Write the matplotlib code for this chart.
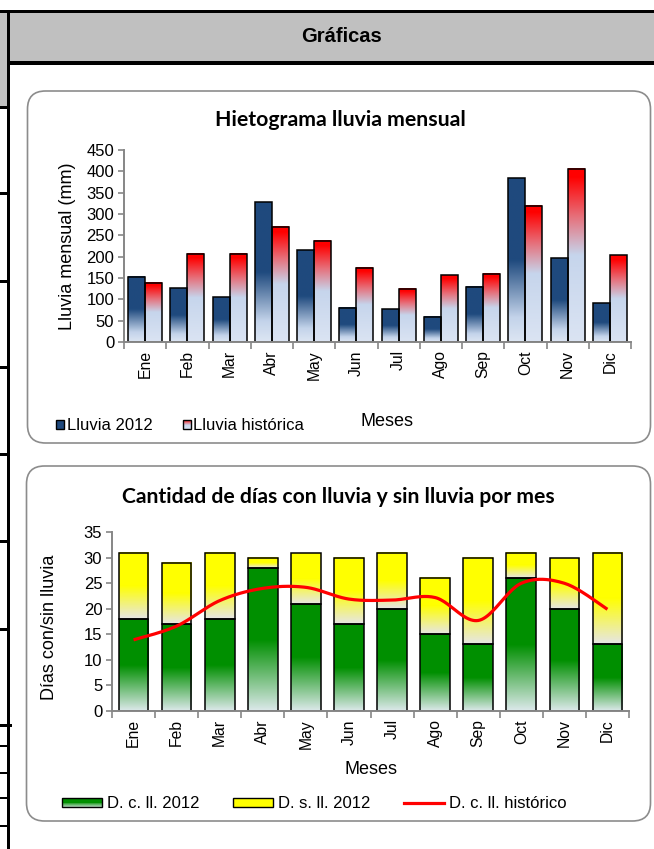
import numpy as np
import matplotlib
matplotlib.use("Agg")
import matplotlib.pyplot as plt
from matplotlib.colors import LinearSegmentedColormap, to_hex
from matplotlib.patches import Rectangle, FancyBboxPatch, Patch
from matplotlib.legend_handler import HandlerBase
from matplotlib.lines import Line2D

# ---------------- data ----------------
meses = ["Ene", "Feb", "Mar", "Abr", "May", "Jun", "Jul", "Ago", "Sep", "Oct", "Nov", "Dic"]
lluvia_2012 = [153, 126, 105, 328, 215, 80, 77, 59, 130, 384, 196, 91]
lluvia_historica = [139, 207, 207, 270, 237, 174, 125, 156, 160, 319, 406, 203]
dias_con_lluvia_2012 = [18, 17, 18, 28, 21, 17, 20, 15, 13, 26, 20, 13]
dias_sin_lluvia_2012 = [13, 12, 13, 2, 10, 13, 11, 11, 17, 5, 10, 18]
dias_con_lluvia_hist = [13.9, 16.6, 21.6, 24.0, 24.2, 21.9, 21.7, 22.2, 17.7, 25.0, 25.0, 19.9]

plt.rcParams['font.family'] = ['Liberation Sans', 'DejaVu Sans']

W, H = 654, 849
fig = plt.figure(figsize=(W / 100, H / 100), dpi=100)

# ---------------- page frame ----------------
bg = fig.add_axes([0, 0, 1, 1], zorder=0)
bg.set_xlim(0, W)
bg.set_ylim(H, 0)
bg.axis('off')

def rect(x0, y0, x1, y1, color):
    bg.add_patch(Rectangle((x0, y0), x1 - x0, y1 - y0, facecolor=color, edgecolor='none'))

rect(0, 10, W, 62, '#c0c0c0')
rect(0, 10, W, 13, 'black')
rect(10, 61, W, 64.5, 'black')
rect(0, 13, 7, 107, '#c0c0c0')
rect(6.7, 10, 10, H, 'black')
for yl in [106, 192, 280, 366, 453, 540, 628]:
    rect(0, yl, 8, yl + 3, 'black')
rect(0, 724, 12, 727, 'black')
for yl in [745, 772, 797, 825]:
    rect(0, yl, 8, yl + 2.2, 'black')

for (x0, y0, x1, y1) in [(27.5, 91, 650.5, 443), (26.5, 466, 650.5, 821)]:
    bg.add_patch(FancyBboxPatch((x0 + 18, y0 + 18), (x1 - x0) - 36, (y1 - y0) - 36,
                                boxstyle="round,pad=18", facecolor='white',
                                edgecolor='#8c8c8c', linewidth=1.2))

fig.text(342 / W, 1 - 37 / H, "Gráficas", ha='center', va='center',
         fontsize=14.5, fontweight='bold')

# ---------------- helpers ----------------
def fig_axes(x0, y0, x1, y1):
    return fig.add_axes([x0 / W, 1 - y1 / H, (x1 - x0) / W, (y1 - y0) / H], zorder=2)

def style_axes(ax, ymax, ystep):
    ax.set_facecolor('none')
    ax.set_xlim(-0.5, 11.5)
    ax.set_ylim(0, ymax)
    for s in ['top', 'right']:
        ax.spines[s].set_visible(False)
    for s in ['left', 'bottom']:
        ax.spines[s].set_color('#868686')
        ax.spines[s].set_linewidth(1.4)
    ax.set_yticks(np.arange(0, ymax + 0.1, ystep))
    ax.tick_params(axis='y', direction='out', length=4, width=1.2, color='#868686',
                   labelsize=12, pad=3)
    ax.set_xticks(np.arange(12))
    ax.set_xticklabels(meses, rotation=90, fontsize=11.3)
    ax.tick_params(axis='x', which='major', length=0, pad=6)
    ax.set_xticks(np.arange(-0.5, 12, 1), minor=True)
    ax.tick_params(axis='x', which='minor', direction='out', length=5, width=1.2, color='#868686')

def grad_fill(ax, bars, cmap):
    g = np.linspace(0, 1, 256).reshape(-1, 1)
    for b in bars:
        x0, y0, w, h = b.get_x(), b.get_y(), b.get_width(), b.get_height()
        ax.imshow(g, extent=[x0, x0 + w, y0, y0 + h], origin='lower', aspect='auto',
                  cmap=cmap, zorder=1.5, interpolation='bilinear')

def smooth_curve(xs, ys, n=24):
    P = np.column_stack([xs, ys]).astype(float)
    out = []
    m = len(P)
    for i in range(m - 1):
        p0 = P[i - 1] if i > 0 else P[i]
        p1, p2 = P[i], P[i + 1]
        p3 = P[i + 2] if i + 2 < m else P[i + 1]
        c1 = p1 + (p2 - p0) / 6
        c2 = p2 - (p3 - p1) / 6
        t = np.linspace(0, 1, n, endpoint=(i == m - 2))[:, None]
        out.append((1 - t) ** 3 * p1 + 3 * (1 - t) ** 2 * t * c1 + 3 * (1 - t) * t ** 2 * c2 + t ** 3 * p2)
    return np.vstack(out)

class GradHandler(HandlerBase):
    def __init__(self, colors, **kw):
        super().__init__(**kw)
        self.colors = colors  # bottom -> top

    def create_artists(self, legend, orig_handle, xdescent, ydescent, width, height, fontsize, trans):
        arts = []
        n = len(self.colors)
        for i, c in enumerate(self.colors):
            arts.append(Rectangle((-xdescent, -ydescent + height * i / n), width, height / n,
                                  facecolor=c, edgecolor='none', transform=trans))
        arts.append(Rectangle((-xdescent, -ydescent), width, height, facecolor='none',
                              edgecolor='black', linewidth=1.0, transform=trans))
        return arts

cm_blue = LinearSegmentedColormap.from_list('b', [(0, '#dde6f3'), (0.15, '#c3d3ea'), (0.5, '#1f4a7e'), (1, '#1f497d')])
cm_red = LinearSegmentedColormap.from_list('r', [(0, '#dbe4f3'), (0.5, '#c6d5ec'), (0.72, '#e6717c'), (0.95, '#ff0000'), (1, '#ff0000')])
cm_green = LinearSegmentedColormap.from_list('g', [(0, '#dde9eb'), (0.5, '#008f00'), (1, '#009000')])
cm_yellow = LinearSegmentedColormap.from_list('y', [(0, '#e6e6e6'), (0.5, '#ffff00'), (1, '#ffff00')])

def samples(cmap, n=12):
    return [to_hex(cmap(v)) for v in (np.arange(n) + 0.5) / n]

# ---------------- chart 1 ----------------
ax1 = fig_axes(124, 150, 631, 342)
x = np.arange(len(meses))
w1 = 0.4
b1 = ax1.bar(x - w1 / 2, lluvia_2012, w1, facecolor='none', edgecolor='black', linewidth=1.1, zorder=2)
b2 = ax1.bar(x + w1 / 2, lluvia_historica, w1, facecolor='none', edgecolor='black', linewidth=1.1, zorder=2)
grad_fill(ax1, b1, cm_blue)
grad_fill(ax1, b2, cm_red)
style_axes(ax1, 450, 50)
ax1.set_ylabel("Lluvia mensual (mm)", fontsize=13, va='center')
ax1.yaxis.set_label_coords((67 - 124) / 507, 0.5)
ax1.set_xlabel("Meses", fontsize=13, va='center')
ax1.xaxis.set_label_coords((387 - 124) / 507, -(421 - 342) / 192)

fig.text(340 / W, 1 - 120 / H, "Hietograma lluvia mensual", ha='center', va='center',
         fontsize=15.3, fontweight='bold', family=['Lato', 'DejaVu Sans'])

h_a = Patch(facecolor='#1f497d', edgecolor='black')
h_b = Patch(facecolor='#c6d5ec', edgecolor='black')
fig.legend([h_a, h_b], ["Lluvia 2012", "Lluvia histórica"],
           handler_map={h_b: GradHandler(samples(cm_red))},
           loc='center left', bbox_to_anchor=(56 / W, 1 - 426 / H), bbox_transform=fig.transFigure,
           ncol=2, frameon=False, fontsize=12, borderpad=0, borderaxespad=0,
           handlelength=0.5, handleheight=0.5, handletextpad=0.15, columnspacing=1.8)

# ---------------- chart 2 ----------------
ax2 = fig_axes(112, 532.3, 629, 710.7)
w2 = 0.69
g1 = ax2.bar(x, dias_con_lluvia_2012, w2, facecolor='none', edgecolor='black', linewidth=1.1, zorder=2)
g2 = ax2.bar(x, dias_sin_lluvia_2012, w2, bottom=dias_con_lluvia_2012, facecolor='none',
             edgecolor='black', linewidth=1.1, zorder=2)
grad_fill(ax2, g1, cm_green)
grad_fill(ax2, g2, cm_yellow)
curve = smooth_curve(x, dias_con_lluvia_hist)
ax2.plot(curve[:, 0], curve[:, 1], color='#ff0000', linewidth=2.3, zorder=3,
         solid_capstyle='butt')
style_axes(ax2, 35, 5)
ax2.set_ylabel("Días con/sin lluvia", fontsize=13, va='center')
ax2.yaxis.set_label_coords((50 - 112) / 517, 0.47)
ax2.set_xlabel("Meses", fontsize=13, va='center')
ax2.xaxis.set_label_coords((371 - 112) / 517, -(769 - 710.7) / 178.4)

fig.text(338 / W, 1 - 497 / H, "Cantidad de días con lluvia y sin lluvia por mes", ha='center',
         va='center', fontsize=15.2, fontweight='bold', family=['Lato', 'DejaVu Sans'])

h_g = Patch(facecolor='#009000', edgecolor='black')
h_y = Patch(facecolor='#ffff00', edgecolor='black')
h_r = Line2D([], [], color='#ff0000', linewidth=2.3)
fig.legend([h_g, h_y, h_r], ["D. c. ll. 2012", "D. s. ll. 2012", "D. c. ll. histórico"],
           handler_map={h_g: GradHandler(samples(cm_green))},
           loc='center left', bbox_to_anchor=(62 / W, 1 - 804 / H), bbox_transform=fig.transFigure,
           ncol=3, frameon=False, fontsize=12, borderpad=0, borderaxespad=0,
           handlelength=2.4, handleheight=0.5, handletextpad=0.3, columnspacing=2.0)

fig.savefig("out.png", dpi=100)
